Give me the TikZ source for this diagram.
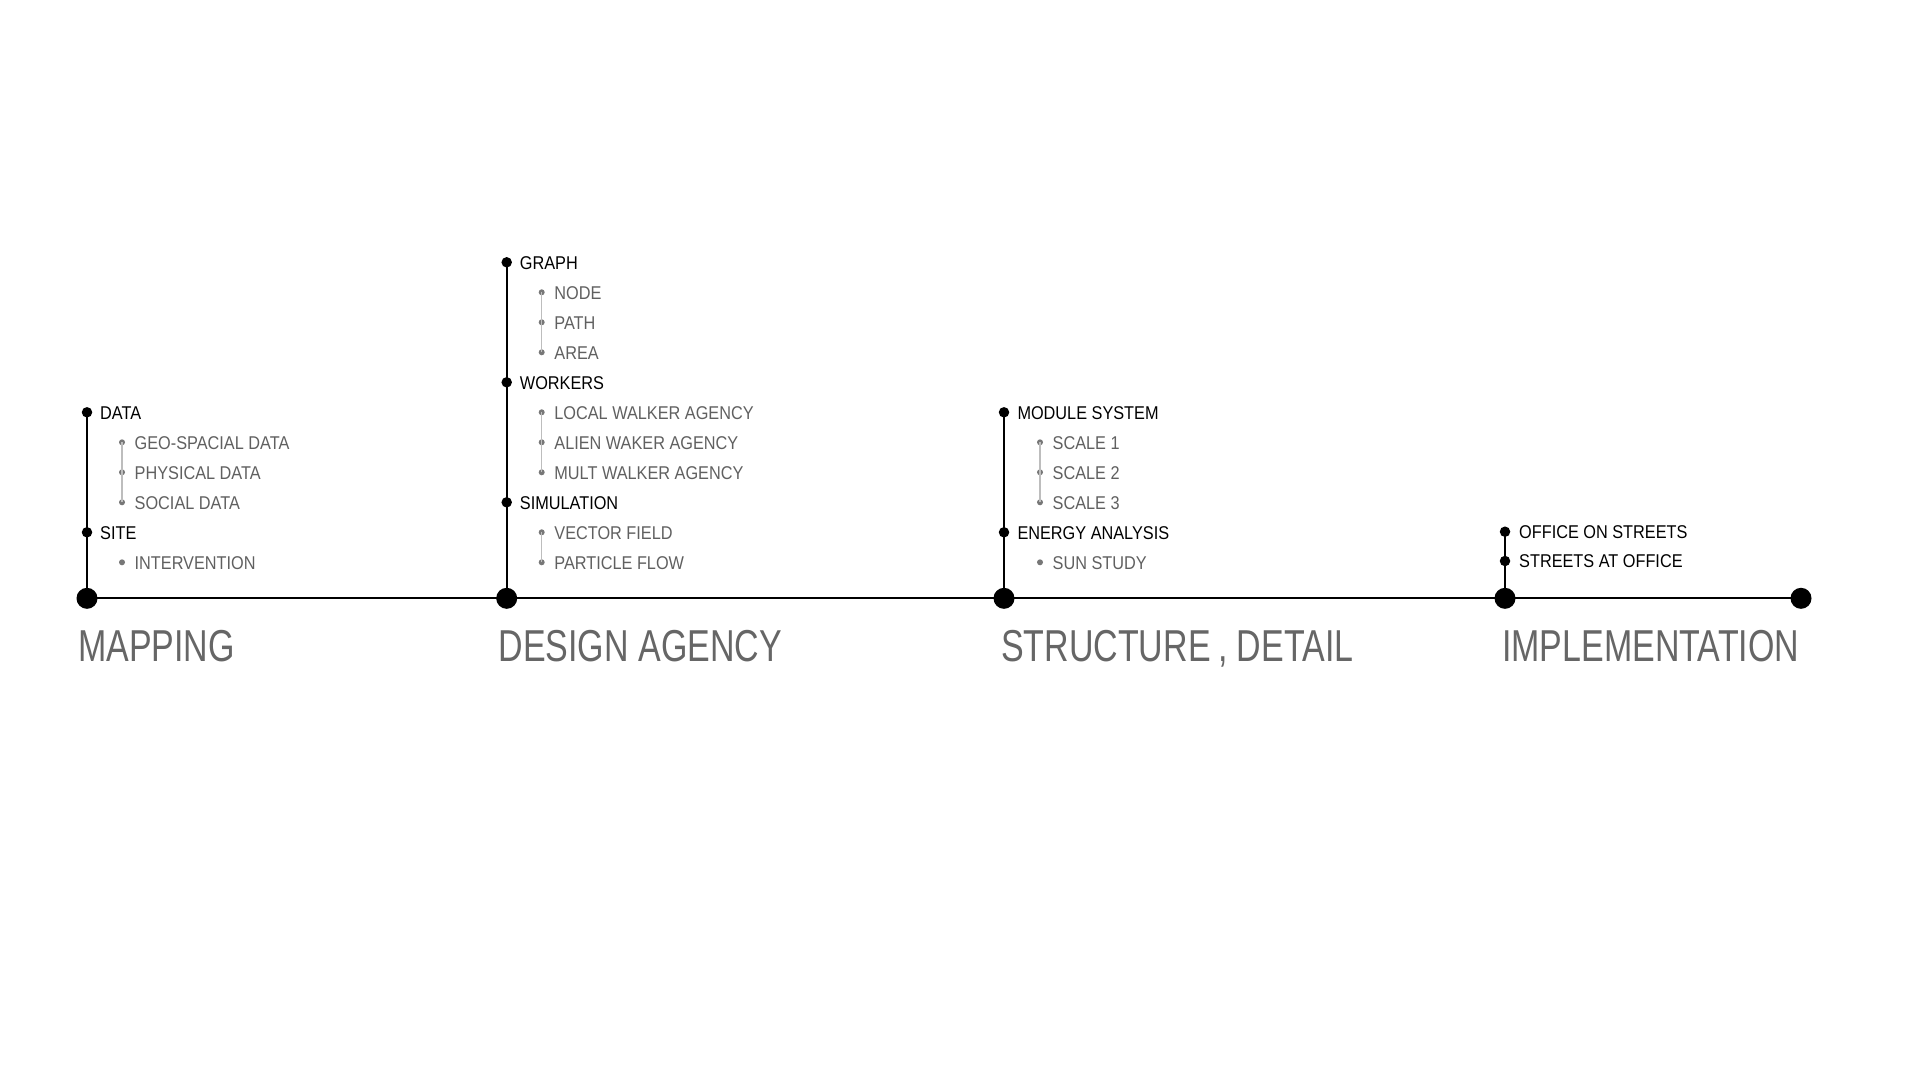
\documentclass[tikz,border=0pt]{standalone}
\usepackage{fontspec}
\setmainfont{Liberation Sans}
\newfontfamily\itemfont{Liberation Sans}[FakeStretch=0.88]
\newfontfamily\headfont{Liberation Sans}[FakeStretch=0.76]
\definecolor{subtext}{HTML}{606060}
\definecolor{subdot}{HTML}{777777}
\definecolor{subline}{HTML}{BDBDBD}
\definecolor{headgray}{HTML}{666666}
\tikzset{
  bigdot/.style={circle,fill=black,inner sep=0pt,minimum size=21pt},
  maindot/.style={circle,fill=black,inner sep=0pt,minimum size=10.5pt},
  subdot/.style={circle,fill=subdot,inner sep=0pt,minimum size=6pt},
  mainlabel/.style={anchor=base west,inner sep=0pt,text=black,font=\itemfont\fontsize{18.5}{20}\selectfont},
  sublabel/.style={anchor=base west,inner sep=0pt,text=subtext,font=\itemfont\fontsize{18.5}{20}\selectfont},
  headlabel/.style={anchor=base west,inner sep=0pt,text=headgray,font=\headfont\fontsize{44.7}{48}\selectfont},
  axis/.style={line width=2pt,black},
  stem/.style={line width=2pt,black},
  substem/.style={line width=1.5pt,subline},
}
\begin{document}
\begin{tikzpicture}[x=1pt,y=-1pt]
\fill[white] (0,0) rectangle (1920,1080);
\useasboundingbox (0,0) rectangle (1920,1080);

% ---------- MAPPING ----------
\node[bigdot] (A) at (87,598.3) {};
\node[maindot] (A1) at (87,412.3) {};
\node[maindot] (A2) at (87,532.3) {};
\node[subdot] (A11) at (122,442.3) {};
\node[subdot] (A12) at (122,472.3) {};
\node[subdot] (A13) at (122,502.3) {};
\node[subdot] (A21) at (122,562.3) {};
\draw[stem] (A1.center) -- (A.center);
\draw[substem] (A11.center) -- (A13.center);
\node[mainlabel] (tA1) at (100,419) {DATA};
\node[sublabel] (tA11) at (134.5,449) {GEO-SPACIAL DATA};
\node[sublabel] (tA12) at (134.5,479) {PHYSICAL DATA};
\node[sublabel] (tA13) at (134.5,509) {SOCIAL DATA};
\node[mainlabel] (tA2) at (100,539) {SITE};
\node[sublabel] (tA21) at (134.5,569) {INTERVENTION};
\node[headlabel] (hA) at (78,661) {MAPPING};

% ---------- DESIGN AGENCY ----------
\node[bigdot] (B) at (506.7,598.3) {};
\node[maindot] (B1) at (506.7,262.3) {};
\node[maindot] (B2) at (506.7,382.3) {};
\node[maindot] (B3) at (506.7,502.3) {};
\node[subdot] (B11) at (541.7,292.3) {};
\node[subdot] (B12) at (541.7,322.3) {};
\node[subdot] (B13) at (541.7,352.3) {};
\node[subdot] (B21) at (541.7,412.3) {};
\node[subdot] (B22) at (541.7,442.3) {};
\node[subdot] (B23) at (541.7,472.3) {};
\node[subdot] (B31) at (541.7,532.3) {};
\node[subdot] (B32) at (541.7,562.3) {};
\draw[stem] (B1.center) -- (B.center);
\draw[substem] (B11.center) -- (B13.center);
\draw[substem] (B21.center) -- (B23.center);
\draw[substem] (B31.center) -- (B32.center);
\node[mainlabel] (tB1) at (519.7,269) {GRAPH};
\node[sublabel] (tB11) at (554.2,299) {NODE};
\node[sublabel] (tB12) at (554.2,329) {PATH};
\node[sublabel] (tB13) at (554.2,359) {AREA};
\node[mainlabel] (tB2) at (519.7,389) {WORKERS};
\node[sublabel] (tB21) at (554.2,419) {LOCAL WALKER AGENCY};
\node[sublabel] (tB22) at (554.2,449) {ALIEN WAKER AGENCY};
\node[sublabel] (tB23) at (554.2,479) {MULT WALKER AGENCY};
\node[mainlabel] (tB3) at (519.7,509) {SIMULATION};
\node[sublabel] (tB31) at (554.2,539) {VECTOR FIELD};
\node[sublabel] (tB32) at (554.2,569) {PARTICLE FLOW};
\node[headlabel] (hB) at (498.5,661) {DESIGN AGENCY};

% ---------- STRUCTURE , DETAIL ----------
\node[bigdot] (C) at (1004,598.3) {};
\node[maindot] (C1) at (1004,412.3) {};
\node[maindot] (C2) at (1004,532.3) {};
\node[subdot] (C11) at (1040,442.3) {};
\node[subdot] (C12) at (1040,472.3) {};
\node[subdot] (C13) at (1040,502.3) {};
\node[subdot] (C21) at (1040,562.3) {};
\draw[stem] (C1.center) -- (C.center);
\draw[substem] (C11.center) -- (C13.center);
\node[mainlabel] (tC1) at (1017.3,419) {MODULE SYSTEM};
\node[sublabel] (tC11) at (1052.5,449) {SCALE 1};
\node[sublabel] (tC12) at (1052.5,479) {SCALE 2};
\node[sublabel] (tC13) at (1052.5,509) {SCALE 3};
\node[mainlabel] (tC2) at (1017.3,539) {ENERGY ANALYSIS};
\node[sublabel] (tC21) at (1052.5,569) {SUN STUDY};
\node[headlabel] (hC) at (1001,661) {STRUCTURE\kern-2pt{} , DETAIL};

% ---------- IMPLEMENTATION ----------
\node[bigdot] (D) at (1505,598.3) {};
\node[maindot] (D1) at (1505,531.7) {};
\node[maindot] (D2) at (1505,561) {};
\draw[stem] (D1.center) -- (D.center);
\node[mainlabel] (tD1) at (1519,538.4) {OFFICE ON STREETS};
\node[mainlabel] (tD2) at (1519,567.7) {STREETS AT OFFICE};
\node[headlabel] (hD) at (1502,661) {IMPLEMENTATION};

% ---------- end ----------
\node[bigdot] (E) at (1801,598.3) {};

% main axis
\draw[axis] (A.center) -- (B.center) -- (C.center) -- (D.center) -- (E.center);
\end{tikzpicture}
\end{document}
